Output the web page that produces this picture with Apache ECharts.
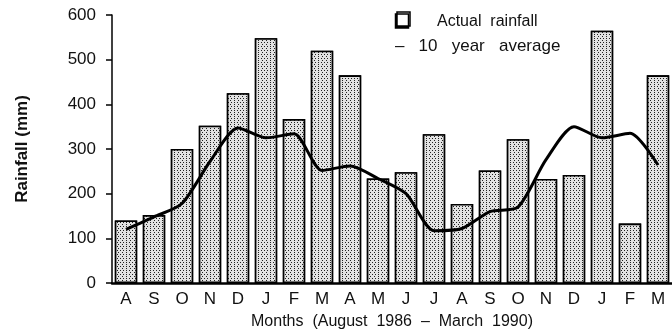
<!DOCTYPE html>
<html>
<head>
<meta charset="utf-8">
<script src="https://cdn.jsdelivr.net/npm/echarts@6/dist/echarts.min.js"></script>
<style>
html, body { margin: 0; padding: 0; background: #fff; }
#chart { width: 672px; height: 333px; }
</style>
</head>
<body>
<div id="chart"></div>
<script>
var months = ['A', 'S', 'O', 'N', 'D', 'J', 'F', 'M', 'A', 'M', 'J', 'J', 'A', 'S', 'O', 'N', 'D', 'J', 'F', 'M'];
var actualRain = [140, 152, 300, 352, 425, 548, 367, 520, 465, 234, 248, 333, 177, 252, 322, 233, 242, 565, 133, 465];
var tenYearAvg = [120, 148, 178, 272, 347, 325, 334, 252, 262, 234, 200, 117, 122, 160, 170, 276, 350, 325, 335, 264];
var yTicks = [0, 100, 200, 300, 400, 500, 600];

var font = 'Liberation Sans, Arial, sans-serif';
var myChart = echarts.init(document.getElementById('chart'));

var option = {
	animation: false,
	grid: { left: 112, right: 0, top: 15, bottom: 50, outerBoundsMode: 'none', containLabel: false },
	xAxis: {
		type: 'category',
		data: months,
		name: 'Months  (August  1986  \u2013  March  1990)',
		nameLocation: 'middle',
		nameGap: 31,
		nameTextStyle: { color: '#111', fontSize: 16, fontFamily: font },
		axisLine: { lineStyle: { color: '#000', width: 2.5 } },
		axisTick: { show: false },
		axisLabel: { color: '#111', fontSize: 17, fontFamily: font, margin: 8 }
	},
	yAxis: {
		type: 'value',
		min: 0,
		max: 600,
		interval: 100,
		name: 'Rainfall (mm)',
		nameLocation: 'middle',
		nameGap: 81,
		nameTextStyle: { color: '#111', fontSize: 17, fontWeight: 'bold', fontFamily: font },
		axisLine: { show: true, lineStyle: { color: '#000', width: 1.5 } },
		axisTick: { show: true, length: 6, lineStyle: { color: '#000', width: 1.5 } },
		axisLabel: {
			color: '#111', fontSize: 17, fontFamily: font, margin: 16,
			formatter: function (v) { return yTicks.indexOf(v) >= 0 ? String(v) : ''; }
		},
		splitLine: { show: false }
	},
	series: [
		{
			name: 'Actual rainfall',
			type: 'bar',
			data: actualRain,
			barCategoryGap: '20%',
			itemStyle: {
				color: '#e6e6e6',
				borderColor: '#000',
				borderWidth: 1.6,
				decal: {
					symbol: 'rect',
					symbolSize: 1,
					dashArrayX: [[1, 2], [0, 1.5, 1, 0.5]],
					dashArrayY: [1, 1],
					color: '#222',
					backgroundColor: '#e2e2e2'
				}
			}
		},
		{
			name: '10 year average',
			type: 'line',
			data: tenYearAvg,
			smooth: 0.25,
			symbol: 'none',
			lineStyle: { color: '#000', width: 3 },
			z: 5
		}
	],
	graphic: [
		{
			type: 'rect',
			shape: { x: 397, y: 12, width: 13, height: 14 },
			style: { fill: '#fff', stroke: '#000', lineWidth: 1.5, shadowColor: '#000', shadowOffsetX: -1.5, shadowOffsetY: 2, shadowBlur: 0 }
		},
		{
			type: 'text',
			left: 437, top: 14,
			style: { text: 'Actual  rainfall', font: '16px ' + font, fill: '#111' }
		},
		{
			type: 'text',
			left: 395, top: 38,
			style: { text: '\u2013   10   year   average', font: '17px ' + font, fill: '#111' }
		}
	]
};
myChart.setOption(option);
</script>
</body>
</html>
